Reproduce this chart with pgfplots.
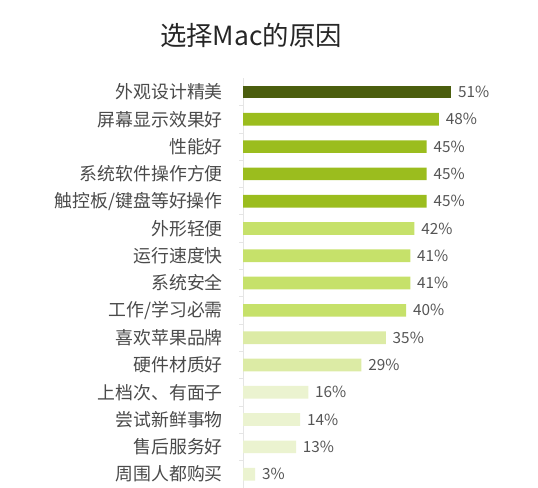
\documentclass[border=0pt]{standalone}
\usepackage{fontspec}
\setmainfont{Noto Sans CJK SC}
\usepackage{pgfplots}
\pgfplotsset{compat=1.18}
\definecolor{cdark}{HTML}{4B5E0E}
\definecolor{cmid}{HTML}{9BBD1E}
\definecolor{clight}{HTML}{C6E16A}
\definecolor{clighter}{HTML}{DCEBA5}
\definecolor{clightest}{HTML}{EBF3D0}
\definecolor{labtext}{HTML}{4A4A4A}
\definecolor{valtext}{HTML}{555555}
\begin{document}
\begin{tikzpicture}
\path[use as bounding box] (0,0) rectangle (403.5pt,366pt);
\node[font=\fontsize{19.8pt}{22pt}\selectfont, text=black!85, inner sep=0pt] at (188.25pt,339.75pt) {选择Mac的原因};
\begin{axis}[
  at={(182.25pt,307.24pt)}, anchor=north west,
  scale only axis,
  width=168.3pt, height=307.1pt,
  xbar, bar shift=0pt, bar width=9.5pt,
  xmin=0, xmax=55,
  ymin=-0.5, ymax=14.5,
  y dir=reverse,
  axis x line=none,
  axis y line*=left,
  y axis line style={draw=black!10, line width=0.6pt},
  ytick={0,...,14},
  yticklabels={外观设计精美,屏幕显示效果好,性能好,系统软件操作方便,触控板/键盘等好操作,外形轻便,运行速度快,系统安全,工作/学习必需,喜欢苹果品牌,硬件材质好,上档次、有面子,尝试新鲜事物,售后服务好,周围人都购买},
  major tick length=0pt,
  minor y tick num=1,
  minor tick length=3pt,
  tick align=outside,
  minor tick style={draw=black!10, line width=0.6pt},
  y tick label style={font=\fontsize{13.4pt}{15pt}\selectfont, text=labtext, inner sep=0pt, xshift=-15pt, anchor=east},
  nodes near coords={\pgfmathprintnumber{\pgfplotspointmeta}\%},
  /pgf/number format/assume math mode=true,
  every node near coord/.append style={font=\fontsize{11.5pt}{13pt}\selectfont, text=valtext, anchor=west, inner sep=0pt, xshift=5pt},
  clip=false,
]
\addplot[fill=cdark, draw=none] coordinates {(51,0)};
\addplot[fill=cmid, draw=none] coordinates {(48,1) (45,2) (45,3) (45,4)};
\addplot[fill=clight, draw=none] coordinates {(42,5) (41,6) (41,7) (40,8)};
\addplot[fill=clighter, draw=none] coordinates {(35,9) (29,10)};
\addplot[fill=clightest, draw=none] coordinates {(16,11) (14,12) (13,13) (3,14)};
\end{axis}
\end{tikzpicture}
\end{document}
